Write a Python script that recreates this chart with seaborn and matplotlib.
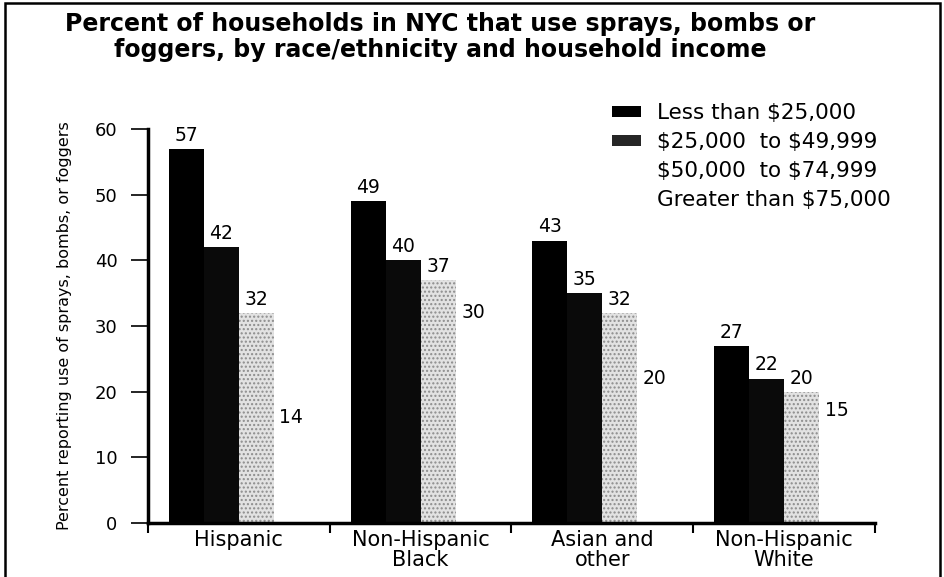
import numpy as np
import pandas as pd
import seaborn as sns
import matplotlib.pyplot as plt
from matplotlib.patches import Patch, Rectangle

groups = ["Hispanic", "Non-Hispanic\nBlack", "Asian and\nother", "Non-Hispanic\nWhite"]
incomes = ["Less than \\$25,000", "\\$25,000  to \\$49,999", "\\$50,000  to \\$74,999", "Greater than \\$75,000"]
less_25k = [57, 49, 43, 27]
from_25k = [42, 40, 35, 22]
from_50k = [32, 37, 32, 20]
over_75k = [14, 30, 20, 15]
yticks = [0, 10, 20, 30, 40, 50, 60]

colors = ["#000000", "#0a0a0a", "#e2e2e2", "#ffffff"]

sns.set_theme(style="white")
plt.rcParams["font.family"] = ["DejaVu Sans"]
plt.rcParams["text.color"] = "black"
plt.rcParams["xtick.color"] = "black"
plt.rcParams["ytick.color"] = "black"
plt.rcParams["axes.labelcolor"] = "black"

df = pd.DataFrame({
    "group": groups * 4,
    "income": np.repeat(incomes, 4),
    "pct": less_25k + from_25k + from_50k + over_75k,
})

fig = plt.figure(figsize=(9.45, 5.77), dpi=100)
ax = fig.add_axes([148 / 945, 1 - 523 / 577, 727 / 945, 394 / 577])

sns.barplot(data=df, x="group", y="pct", hue="income", palette=colors,
            width=0.77, saturation=1, legend=False, ax=ax)

for i, cont in enumerate(ax.containers):
    for p in cont:
        p.set_linewidth(0)
        if i == 2:
            p.set_hatch("....")
            p.set_edgecolor("#8c8c8c")
    ax.bar_label(cont, fmt="%d", padding=3, fontsize=13.5, color="black")

ax.set_xlim(-0.5, 3.5)
ax.set_ylim(0, 60)
ax.set_yticks(yticks)
ax.set_xlabel("")
ax.set_ylabel("Percent reporting use of sprays, bombs, or foggers",
              fontsize=11.5, labelpad=16)
ax.set_xticks(range(4))
ax.set_xticklabels(groups, fontsize=15, linespacing=1.0)
ax.set_xticks([-0.5, 0.5, 1.5, 2.5, 3.5], minor=True)
ax.tick_params(axis="x", which="major", length=0, pad=5)
ax.tick_params(axis="x", which="minor", length=7, width=1.5, color="black", direction="out", bottom=True)
ax.tick_params(axis="y", length=12, width=1.2, color="black", pad=10, labelsize=13, left=True)
sns.despine(ax=ax)
for s in ["left", "bottom"]:
    ax.spines[s].set_color("black")
    ax.spines[s].set_linewidth(2.5)

fig.text(440 / 945, 1 - 37 / 577,
         "Percent of households in NYC that use sprays, bombs or\nfoggers, by race/ethnicity and household income",
         ha="center", va="center", fontsize=17, fontweight="bold", linespacing=1.1)

handles = [Patch(facecolor=c, edgecolor="none") for c in ["#000000", "#262626", "#ffffff", "#ffffff"]]
fig.legend(handles, incomes, loc="upper left", bbox_to_anchor=(612 / 945, 1 - 103 / 577),
           frameon=False, fontsize=15.5, handlelength=1.35, handleheight=0.45,
           handletextpad=0.75, labelspacing=0.42, borderpad=0, borderaxespad=0)

fig.patches.append(Rectangle((0.005, -0.01), 0.99, 1.004, transform=fig.transFigure,
                             fill=False, edgecolor="black", linewidth=1.8))

fig.savefig("out.png", dpi=100)
